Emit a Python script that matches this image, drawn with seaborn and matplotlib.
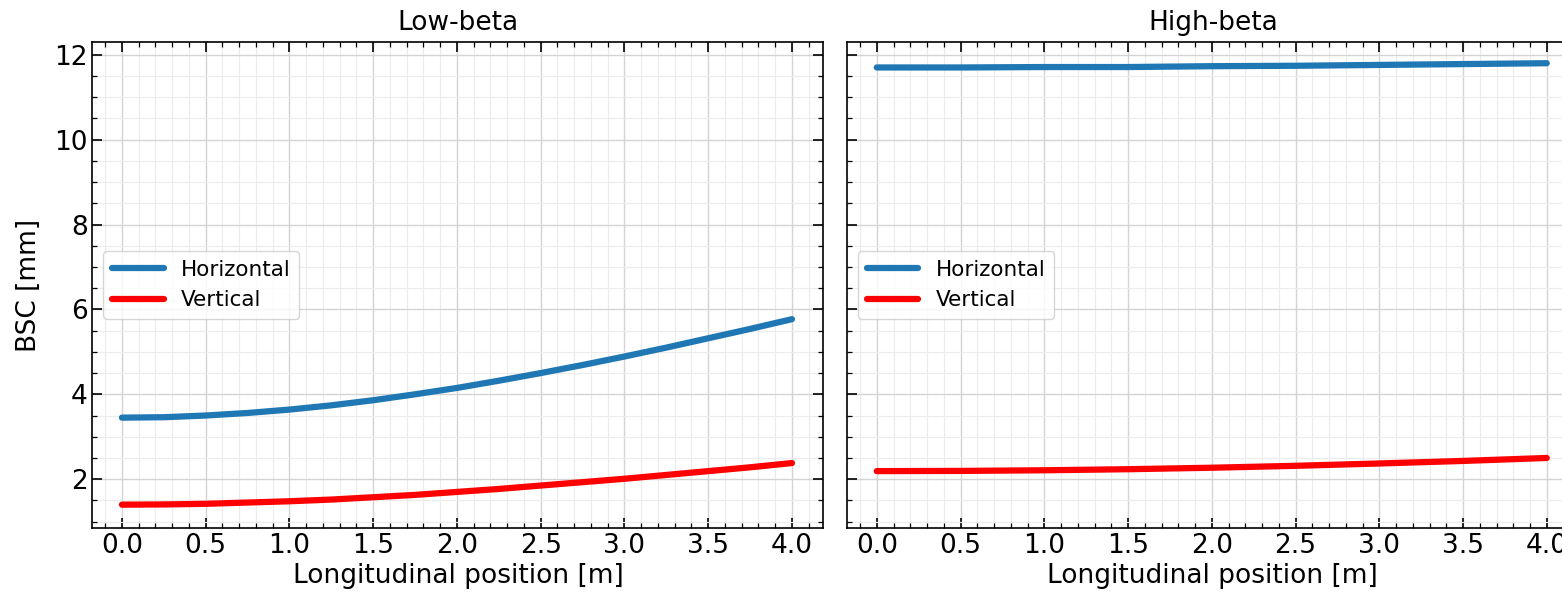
import numpy as np
import pandas as pd
import matplotlib
matplotlib.use("Agg")
import matplotlib.pyplot as plt
from matplotlib.ticker import MultipleLocator
import seaborn as sns

# Longitudinal positions [m]
s_low = [0.0, 0.25, 0.5, 0.75, 1.0, 1.25, 1.5, 1.75, 2.0,
         2.25, 2.5, 2.75, 3.0, 3.25, 3.5, 3.75, 4.0]
s_high = [0.0, 0.5, 1.0, 1.5, 2.0, 2.5, 3.0, 3.5, 4.0]

# BSC values [mm]
low_h = [3.45, 3.46, 3.50, 3.56, 3.64, 3.74, 3.86, 4.00, 4.15,
         4.32, 4.50, 4.69, 4.89, 5.10, 5.32, 5.54, 5.77]
low_v = [1.40, 1.405, 1.42, 1.45, 1.48, 1.52, 1.575, 1.63, 1.70,
         1.77, 1.85, 1.93, 2.01, 2.10, 2.19, 2.28, 2.38]
high_h = [11.70, 11.70, 11.71, 11.71, 11.73, 11.74, 11.76, 11.78, 11.80]
high_v = [2.19, 2.195, 2.21, 2.235, 2.27, 2.315, 2.37, 2.43, 2.50]

titles = ["Low-beta", "High-beta"]
planes = ["Horizontal", "Vertical"]
colors = {"Horizontal": "#1f77b4", "Vertical": "red"}


def make_df(s, h, v):
    return pd.concat([
        pd.DataFrame({"s": s, "bsc": h, "plane": "Horizontal"}),
        pd.DataFrame({"s": s, "bsc": v, "plane": "Vertical"}),
    ], ignore_index=True)


frames = [make_df(s_low, low_h, low_v), make_df(s_high, high_h, high_v)]

sns.set_theme(style="ticks")
plt.rcParams["font.family"] = ["DejaVu Sans"]
plt.rcParams["text.color"] = "black"
plt.rcParams["axes.labelcolor"] = "black"
plt.rcParams["xtick.color"] = "black"
plt.rcParams["ytick.color"] = "black"

fig, axes = plt.subplots(1, 2, figsize=(15.62, 6.0), dpi=100, sharey=True)
# the right panel runs a little past the figure edge, as in the reference
fig.subplots_adjust(left=0.0592, right=1.0104, top=0.93, bottom=0.12, wspace=0.0326)

for ax, df, title in zip(axes, frames, titles):
    sns.lineplot(data=df, x="s", y="bsc", hue="plane", hue_order=planes,
                 palette=colors, linewidth=4.5, ax=ax)
    ax.set_title(title, fontsize=19, pad=9)
    ax.set_xlabel("Longitudinal position [m]", fontsize=19, labelpad=3)
    ax.set_ylabel("BSC [mm]", fontsize=19, labelpad=9)
    ax.xaxis.set_major_locator(MultipleLocator(0.5))
    ax.xaxis.set_minor_locator(MultipleLocator(0.1))
    ax.yaxis.set_major_locator(MultipleLocator(2))
    ax.yaxis.set_minor_locator(MultipleLocator(0.5))
    ax.grid(which="major", color="#d4d4d4", linewidth=1.0)
    ax.grid(which="minor", color="#ececec", linewidth=0.8)
    ax.tick_params(which="both", direction="in", top=True, right=True, labelsize=19)
    ax.tick_params(which="major", length=7, width=1.2)
    ax.tick_params(which="minor", length=3.5, width=0.9)
    for sp in ax.spines.values():
        sp.set_linewidth(1.2)
        sp.set_color("black")
    ax.set_xlim(-0.176, 4.188)
    leg = ax.legend(loc="center left", fontsize=15.5, handlelength=2.4, frameon=True)
    leg.get_frame().set_edgecolor("#cccccc")

axes[1].set_ylabel("")
axes[0].set_ylim(0.85, 12.3)

fig.savefig("out.png", dpi=100)
